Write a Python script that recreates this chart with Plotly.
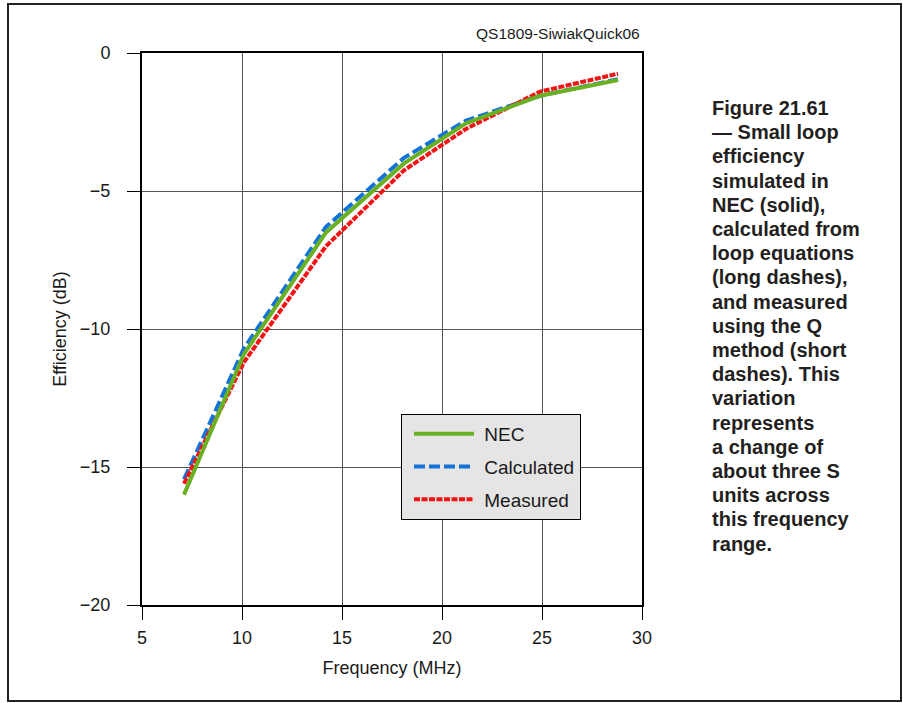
import plotly.graph_objects as go

freq = [7.1, 10.1, 14.2, 18.1, 21.2, 24.9, 28.8]
nec = [-16.0, -10.9, -6.5, -4.0, -2.55, -1.55, -0.98]
calculated = [-15.45, -10.7, -6.3, -3.8, -2.45, -1.55, -0.95]
measured = [-15.6, -11.2, -7.0, -4.25, -2.75, -1.4, -0.75]

x_ticks = [5, 10, 15, 20, 25, 30]
y_ticks = [0, -5, -10, -15, -20]

caption_lines = ["Figure 21.61", "— Small loop", "efficiency", "simulated in", "NEC (solid),",
                 "calculated from", "loop equations", "(long dashes),", "and measured",
                 "using the Q", "method (short", "dashes). This", "variation", "represents",
                 "a change of", "about three S", "units across", "this frequency", "range."]

W, H = 903, 703
PL, PR, PT, PB = 142, 642, 53, 605  # plot-area edges in page pixels


def px(xabs):
    return (xabs - PL) / (PR - PL)


def py(yabs):
    return (PB - yabs) / (PB - PT)


NB = "\u00a0"

fig = go.Figure()
fig.add_trace(go.Scatter(x=freq, y=calculated, name=NB + "Calculated", mode="lines", legendgroup="b",
                         line=dict(color="#1473d8", width=4, dash="11px,4px"), legendrank=2))
fig.add_trace(go.Scatter(x=freq, y=measured, name=NB + "Measured", mode="lines", legendgroup="c",
                         line=dict(color="#f21414", width=4, dash="6px,1.5px"), legendrank=3))
fig.add_trace(go.Scatter(x=freq, y=nec, name=NB + "NEC", mode="lines", legendgroup="a",
                         line=dict(color="#6ab023", width=4), legendrank=1))

axis_common = dict(showline=True, linecolor="black", linewidth=2, mirror=True,
                   ticks="outside", ticklen=13, tickcolor="black", tickwidth=1,
                   showgrid=True, gridcolor="#555555", gridwidth=1, zeroline=False,
                   tickfont=dict(size=18, color="#1a1a1a"))

fig.update_xaxes(range=[5, 30], tickvals=x_ticks, ticklabelstandoff=2,
                 title=dict(text="Frequency (MHz)", font=dict(size=18, color="#1a1a1a"), standoff=15),
                 **axis_common)
fig.update_yaxes(range=[-20, 0], tickvals=y_ticks, ticklabelstandoff=13,
                 title=dict(text="Efficiency (dB)", font=dict(size=18, color="#1a1a1a"), standoff=9),
                 **axis_common)

fig.update_layout(
    width=W, height=H,
    margin=dict(l=PL, r=W - PR, t=PT, b=H - PB),
    paper_bgcolor="white", plot_bgcolor="white",
    font=dict(family="Liberation Sans, Arial, sans-serif", color="#1a1a1a"),
    showlegend=True,
    legend=dict(x=px(401), y=py(414), xanchor="left", yanchor="top",
                bgcolor="#e5e5e5", bordercolor="black", borderwidth=1,
                font=dict(size=19, color="#1a1a1a"), itemwidth=60, indentation=7,
                tracegroupgap=5),
)

fig.add_annotation(text="QS1809-SiwiakQuick06", xref="paper", yref="paper",
                   x=1.0, y=py(33), xanchor="right", yanchor="middle",
                   showarrow=False, font=dict(size=15.5, color="#1a1a1a"))

for i, line in enumerate(caption_lines):
    fig.add_annotation(text="<b>" + line + "</b>", xref="paper", yref="paper",
                       x=px(710), y=py(108 + i * 24.2), xanchor="left", yanchor="middle",
                       align="left", showarrow=False,
                       font=dict(size=20, color="#231f20"))

fig.add_shape(type="rect", xref="paper", yref="paper",
              x0=px(8), x1=px(901), y0=py(701), y1=py(4),
              line=dict(color="#222222", width=2), layer="below")

fig.write_html("out.html", config={"displayModeBar": False},
               post_script="document.body.style.margin='0';document.body.style.overflow='hidden';")
